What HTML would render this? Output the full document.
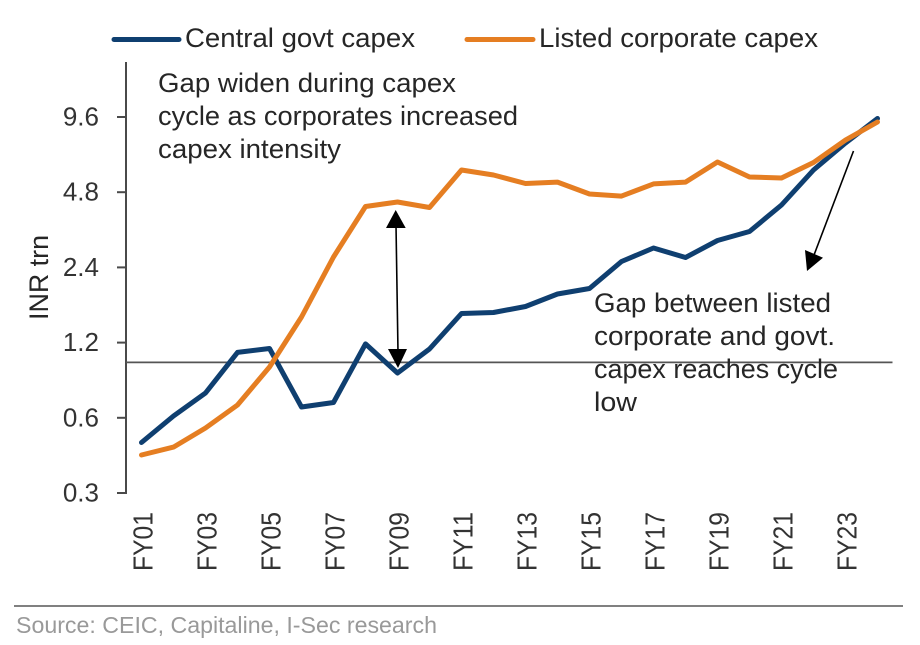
<!DOCTYPE html>
<html lang="en">
<head>
<meta charset="utf-8">
<title>Central govt vs listed corporate capex</title>
<style>
html,body{margin:0;padding:0;background:#fff;}
svg{display:block;font-family:"Liberation Sans",sans-serif;}
</style>
</head>
<body>
<svg id="chart" width="920" height="645" viewBox="0 0 920 645" xmlns="http://www.w3.org/2000/svg">
  <rect x="0" y="0" width="920" height="645" fill="#ffffff"/>
  <g id="axes"></g>
  <g id="series"></g>
  <g>
    <line x1="114" y1="39.5" x2="179" y2="39.5" stroke="#0f3f70" stroke-width="5" stroke-linecap="round"/>
    <text x="185" y="47" font-size="26.5" fill="#262626" textLength="230" lengthAdjust="spacingAndGlyphs">Central govt capex</text>
    <line x1="467" y1="39.5" x2="533" y2="39.5" stroke="#e57e22" stroke-width="5" stroke-linecap="round"/>
    <text x="539" y="47" font-size="26.5" fill="#262626" textLength="279" lengthAdjust="spacingAndGlyphs">Listed corporate capex</text>
  </g>
  <g font-size="26.5" fill="#262626">
    <text x="158" y="92" textLength="298" lengthAdjust="spacingAndGlyphs">Gap widen during capex</text>
    <text x="158" y="125" textLength="360" lengthAdjust="spacingAndGlyphs">cycle as corporates increased</text>
    <text x="158" y="158" textLength="183" lengthAdjust="spacingAndGlyphs">capex intensity</text>
  </g>
  <g font-size="26.5" fill="#262626">
    <text x="594" y="312" textLength="237" lengthAdjust="spacingAndGlyphs">Gap between listed</text>
    <text x="594" y="345" textLength="241" lengthAdjust="spacingAndGlyphs">corporate and govt.</text>
    <text x="594" y="378" textLength="244" lengthAdjust="spacingAndGlyphs">capex reaches cycle</text>
    <text x="594" y="411" textLength="43" lengthAdjust="spacingAndGlyphs">low</text>
  </g>
  <g>
    <line x1="396" y1="225" x2="398" y2="352" stroke="#000" stroke-width="1.6"/>
    <polygon points="395.7,210 386,228 405.7,228" fill="#000"/>
    <polygon points="398,368 388,349 407,349" fill="#000"/>
  </g>
  <g>
    <line x1="853.5" y1="151" x2="814" y2="255" stroke="#000" stroke-width="1.6"/>
    <polygon points="807,271 805,250 823,257.7" fill="#000"/>
  </g>
  <line x1="14" y1="606" x2="903" y2="606" stroke="#808080" stroke-width="2"/>
  <text x="16" y="633" font-size="23.5" fill="#999999" textLength="421" lengthAdjust="spacingAndGlyphs">Source: CEIC, Capitaline, I-Sec research</text>
</svg>
<script>
const categories = ["FY01","FY02","FY03","FY04","FY05","FY06","FY07","FY08","FY09","FY10","FY11","FY12","FY13","FY14","FY15","FY16","FY17","FY18","FY19","FY20","FY21","FY22","FY23","FY24"];
const centralGovtCapex = [0.478,0.610,0.754,1.096,1.137,0.663,0.691,1.186,0.907,1.131,1.569,1.584,1.674,1.878,1.976,2.535,2.870,2.630,3.076,3.341,4.266,5.889,7.555,9.47];
const listedCorporateCapex = [0.426,0.458,0.546,0.675,0.958,1.519,2.641,4.207,4.386,4.169,5.889,5.625,5.20,5.27,4.72,4.63,5.18,5.27,6.34,5.52,5.47,6.31,7.76,9.17];
const yTickValues = [0.3,0.6,1.2,2.4,4.8,9.6];
const yTickLabels = ["0.3","0.6","1.2","2.4","4.8","9.6"];
const xTickLabels = ["FY01","FY03","FY05","FY07","FY09","FY11","FY13","FY15","FY17","FY19","FY21","FY23"];
const referenceLevel = 1;

const NS = "http://www.w3.org/2000/svg";
function xScale(index) { return 141.5 + index * 32; }
function yScale(value) { return 493 - 75.2 * Math.log2(value / 0.3); }
function make(tag, attrs, parent) {
  const el = document.createElementNS(NS, tag);
  for (const k in attrs) el.setAttribute(k, attrs[k]);
  parent.appendChild(el);
  return el;
}
const axes = document.getElementById("axes");
const seriesGroup = document.getElementById("series");

const yAxisLine = make("line", {x1:126, y1:62, x2:126, y2:494, stroke:"#4a4a4a", "stroke-width":2}, axes);



yTickValues.forEach(function (v, i) {
  const y = yScale(v);
  const tick = make("line", {x1:117, y1:y, x2:126, y2:y, stroke:"#4a4a4a", "stroke-width":2}, axes);
  
  
  const label = make("text", {x:99, y:y + 8.5, "text-anchor":"end", "font-size":26, fill:"#333333"}, axes);
  
  
  label.textContent = yTickLabels[i];
});

const yTitle = make("text", {transform:"translate(48,320) rotate(-90)", "font-size":27, fill:"#262626", textLength:85, lengthAdjust:"spacingAndGlyphs"}, axes);


yTitle.textContent = "INR trn";

xTickLabels.forEach(function (name) {
  const x = xScale(categories.indexOf(name));
  const label = make("text", {transform:"translate(" + (x + 11) + ",571) rotate(-90)", "font-size":27.5, fill:"#333333", textLength:59, lengthAdjust:"spacingAndGlyphs"}, axes);
  
  
  label.textContent = name;
});

const refLine = make("line", {x1:126, y1:yScale(referenceLevel), x2:892.5, y2:yScale(referenceLevel), stroke:"#555555", "stroke-width":1.8}, axes);



function pathFor(values) {
  return values.map(function (v, i) {
    return (i ? "L" : "M") + xScale(i).toFixed(1) + " " + yScale(v).toFixed(1);
  }).join(" ");
}
const centralLine = make("path", {d:pathFor(centralGovtCapex), fill:"none", stroke:"#0f3f70", "stroke-width":5, "stroke-linejoin":"round", "stroke-linecap":"round"}, seriesGroup);


const corporateLine = make("path", {d:pathFor(listedCorporateCapex), fill:"none", stroke:"#e57e22", "stroke-width":5, "stroke-linejoin":"round", "stroke-linecap":"round"}, seriesGroup);


</script>
</body>
</html>
